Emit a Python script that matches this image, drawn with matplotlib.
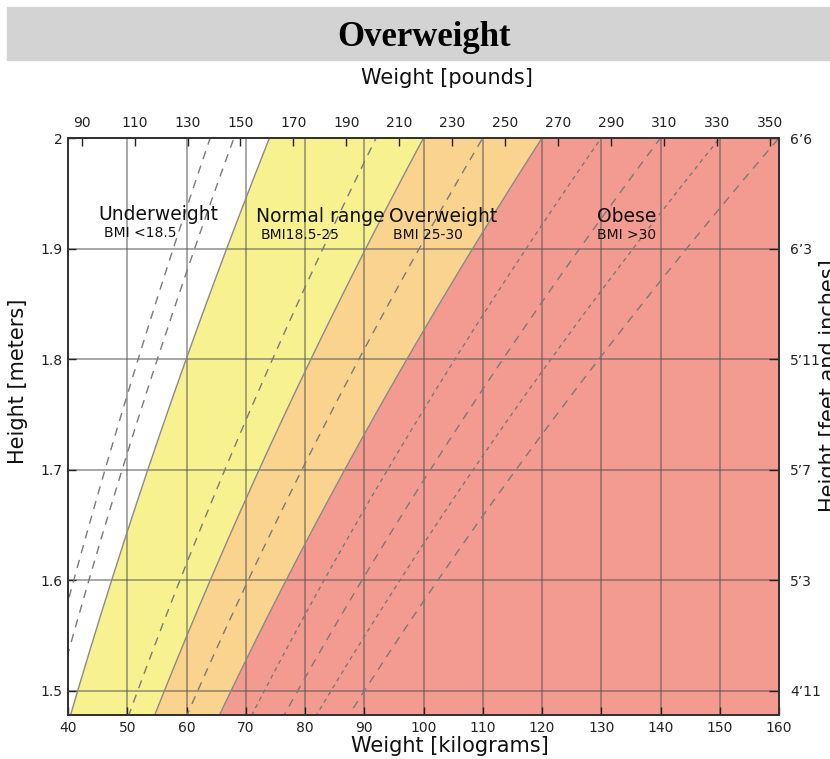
import numpy as np
import matplotlib.pyplot as plt
from matplotlib.patches import Rectangle

# axis ticks
kg_ticks = [40, 50, 60, 70, 80, 90, 100, 110, 120, 130, 140, 150, 160]
lb_ticks = [90, 110, 130, 150, 170, 190, 210, 230, 250, 270, 290, 310, 330, 350]
m_ticks = [1.5, 1.6, 1.7, 1.8, 1.9, 2.0]
m_labels = ['1.5', '1.6', '1.7', '1.8', '1.9', '2']
ft_labels = ['4\u201911', '5\u20193', '5\u20197', '5\u201911', '6\u20193', '6\u20196']

# BMI zones
bmi_bounds = [18.5, 25, 30]
zone_names = ['Underweight', 'Normal range', 'Overweight', 'Obese']
zone_notes = ['BMI <18.5', 'BMI18.5-25', 'BMI 25-30', 'BMI >30']
zone_colors = ['#ffffff', '#f7f28f', '#fad38f', '#f39a91']

# extra BMI reference lines
bmi_dashed = [16, 17, 23, 27.5, 35, 40]
bmi_dotted = [32.5, 37.5]

W, H = 830, 759
fig = plt.figure(figsize=(W / 100, H / 100), dpi=100)
ax = fig.add_axes([68 / W, 1 - 715 / H, (779 - 68) / W, (715 - 138) / H])

h = np.linspace(1.4, 2.1, 300)
edges = [0] + bmi_bounds + [200]
for i in range(4):
    ax.fill_betweenx(h, edges[i] * h ** 2, edges[i + 1] * h ** 2,
                     color=zone_colors[i], lw=0, zorder=1)
for b in bmi_bounds:
    ax.plot(b * h ** 2, h, color='#8a8a8a', lw=1.0, zorder=2)
for b in bmi_dashed:
    ax.plot(b * h ** 2, h, color='#7a7a7a', lw=1.0, dashes=(6, 5), zorder=2)
for b in bmi_dotted:
    ax.plot(b * h ** 2, h, color='#7a7a7a', lw=1.0, dashes=(3, 3), zorder=2)

# zone captions
name_x = [45.2, 71.7, 94.2, 129.3]
note_x = [46.0, 72.5, 94.9, 129.3]
name_y = [1.931, 1.929, 1.929, 1.929]
note_y = [1.914, 1.912, 1.912, 1.912]
for i in range(4):
    ax.text(name_x[i], name_y[i], zone_names[i], fontsize=13.5,
            ha='left', va='center', color='#111111', zorder=3)
    ax.text(note_x[i], note_y[i], zone_notes[i], fontsize=10,
            ha='left', va='center', color='#111111', zorder=3)

ax.set_xlim(40, 160)
ax.set_ylim(1.4783, 2.0)
ax.set_xticks(kg_ticks)
ax.set_yticks(m_ticks)
ax.set_yticklabels(m_labels)
ax.grid(True, color='#555555', alpha=0.6, lw=1.2)
ax.tick_params(direction='in', length=6, width=1, labelsize=10,
               colors='#222222', pad=4)
for s in ax.spines.values():
    s.set_color('#333333')
    s.set_linewidth(1.3)

# pounds on top
top = ax.twiny()
top.set_xlim(84.85, 353.4)
top.set_xticks(lb_ticks)
top.tick_params(direction='in', length=6, width=1, labelsize=10,
                colors='#222222', pad=6)

# feet and inches on the right
right = ax.twinx()
right.set_ylim(ax.get_ylim())
right.set_yticks(m_ticks)
right.set_yticklabels(ft_labels)
right.tick_params(direction='in', length=7, width=1, labelsize=10,
                  colors='#222222', pad=8)
for a in (top, right):
    for s in a.spines.values():
        s.set_color('#333333')
        s.set_linewidth(1.3)

fig.text(450 / W, 1 - 746 / H, 'Weight [kilograms]', fontsize=15,
         ha='center', va='center', color='#111111')
fig.text(447 / W, 1 - 78 / H, 'Weight [pounds]', fontsize=15,
         ha='center', va='center', color='#111111')
fig.text(8 / W, 1 - 381 / H, 'Height [meters]', fontsize=15, rotation=90,
         ha='left', va='center', color='#111111')
fig.text(819 / W, 1 - 386 / H, 'Height [feet and inches]', fontsize=15,
         rotation=90, ha='left', va='center', color='#111111')

# header band
fig.patches.append(Rectangle((7 / W, 1 - 60 / H), 1 - 7 / W, 53 / H,
                             transform=fig.transFigure, color='#d3d3d3',
                             zorder=0))
fig.text(424 / W, 1 - 37 / H, 'Overweight', fontsize=25, fontweight='bold',
         family='Liberation Serif', ha='center', va='center', color='#000000')

fig.savefig('out.png', dpi=100)
